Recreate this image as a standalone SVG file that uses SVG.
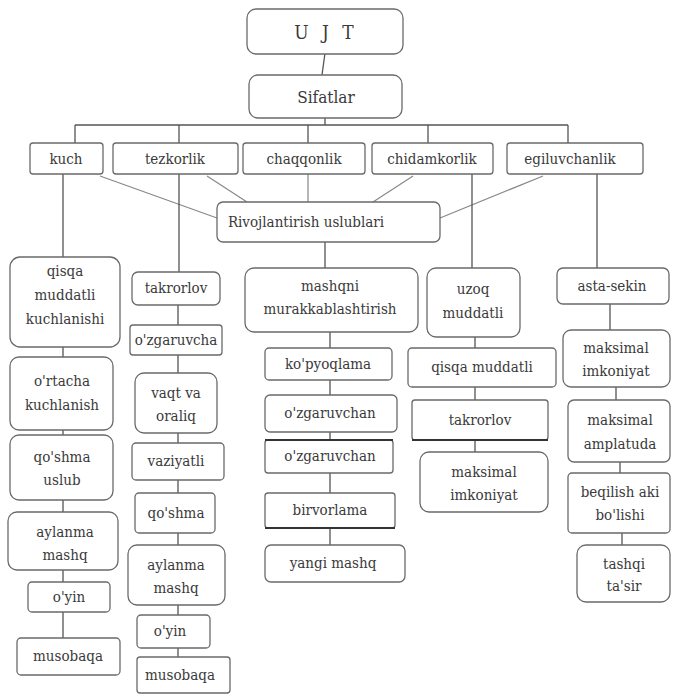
<svg xmlns="http://www.w3.org/2000/svg" width="675" height="695" viewBox="0 0 675 695">
<style>
.b{fill:#fff;stroke:#6a6a6a;stroke-width:1.3}
.t{font-family:'DejaVu Serif',serif;font-stretch:condensed;font-size:15px;fill:#3a3a3a;text-anchor:middle}
.c{stroke:#555;stroke-width:1.3;fill:none}
.d{stroke:#888;stroke-width:1.2;fill:none}
</style>
<rect width="675" height="695" fill="#fff"/>
<g id="connectors">
<path class="c" d="M325 53L322 75"/>
<path class="c" d="M325 118V125M75 125H568M75 125V143M179 125V143M308 125V143M428 125V143M568 125V143"/>
<path class="d" d="M100 176L217 218M207 176L247 202M308 173V202M413 176L373 202M543 176L440 218"/>
<path class="c" d="M63 173V257M179 173V272M472 173V268M597 173V268M325 242V268"/>
<path class="c" d="M63 347V357M63 430V435M63 500V512M63 570V582M63 612V638"/>
<path class="c" d="M178 305V325M178 355V373M178 433V443M178 480V493M178 533V545M178 605V615M178 648V657"/>
<path class="c" d="M330 332V348M330 380V395M330 432V440M330 473V493M330 528V545"/>
<path class="c" d="M475 337V348M475 387V400M475 440V452"/>
<path class="c" d="M610 304V330M616 387V400M620 462V473M622 533V545"/>
</g>
<g id="ujt"><rect class="b" x="247" y="9" width="156" height="45" rx="9"/><text class="t" x="326" y="39" style="font-size:19px;letter-spacing:4px">U J T</text></g>
<g id="sifatlar"><rect class="b" x="249" y="75" width="153" height="43" rx="9"/><text class="t" x="326" y="103" style="font-size:17px">Sifatlar</text></g>
<g id="kuch"><rect class="b" x="30" y="143" width="73" height="31" rx="3"/><text class="t" x="66" y="164">kuch</text></g>
<g id="tezkorlik"><rect class="b" x="113" y="143" width="125" height="31" rx="3"/><text class="t" x="175" y="164">tezkorlik</text></g>
<g id="chaqqonlik"><rect class="b" x="243" y="143" width="122" height="31" rx="3"/><text class="t" x="304" y="164">chaqqonlik</text></g>
<g id="chidamkorlik"><rect class="b" x="372" y="143" width="121" height="31" rx="3"/><text class="t" x="432" y="164">chidamkorlik</text></g>
<g id="egiluvchanlik"><rect class="b" x="507" y="143" width="136" height="31" rx="3"/><text class="t" x="570" y="164">egiluvchanlik</text></g>
<g id="rivojlantirish"><rect class="b" x="217" y="202" width="223" height="40" rx="6"/><text class="t" x="306" y="227">Rivojlantirish uslublari</text></g>

<g id="qisqa-muddatli-kuchlanish"><rect class="b" x="10" y="257" width="110" height="90" rx="10"/><text class="t" x="65" y="276">qisqa</text><text class="t" x="65" y="300">muddatli</text><text class="t" x="65" y="324">kuchlanishi</text></g>
<g id="ortacha-kuchlanish"><rect class="b" x="10" y="357" width="103" height="73" rx="9"/><text class="t" x="62" y="386">o'rtacha</text><text class="t" x="62" y="410">kuchlanish</text></g>
<g id="qoshma-uslub"><rect class="b" x="10" y="435" width="103" height="65" rx="9"/><text class="t" x="62" y="462">qo'shma</text><text class="t" x="62" y="485">uslub</text></g>
<g id="aylanma-mashq-1"><rect class="b" x="8" y="512" width="110" height="58" rx="9"/><text class="t" x="65" y="537">aylanma</text><text class="t" x="65" y="560">mashq</text></g>
<g id="oyin-1"><rect class="b" x="28" y="582" width="82" height="30" rx="4"/><text class="t" x="69" y="602">o'yin</text></g>
<g id="musobaqa-1"><rect class="b" x="17" y="638" width="103" height="37" rx="4"/><text class="t" x="68" y="661">musobaqa</text></g>

<g id="takrorlov-1"><rect class="b" x="132" y="272" width="88" height="33" rx="6"/><text class="t" x="176" y="293">takrorlov</text></g>
<g id="ozgaruvcha"><rect class="b" x="130" y="325" width="92" height="30" rx="3"/><text class="t" x="176" y="345">o'zgaruvcha</text></g>
<g id="vaqt-va-oraliq"><rect class="b" x="135" y="373" width="82" height="60" rx="9"/><text class="t" x="176" y="398">vaqt va</text><text class="t" x="176" y="421">oraliq</text></g>
<g id="vaziyatli"><rect class="b" x="132" y="443" width="92" height="37" rx="4"/><text class="t" x="176" y="466">vaziyatli</text></g>
<g id="qoshma"><rect class="b" x="135" y="493" width="80" height="40" rx="4"/><text class="t" x="176" y="518">qo'shma</text></g>
<g id="aylanma-mashq-2"><rect class="b" x="128" y="545" width="97" height="60" rx="9"/><text class="t" x="176" y="570">aylanma</text><text class="t" x="176" y="593">mashq</text></g>
<g id="oyin-2"><rect class="b" x="137" y="615" width="73" height="33" rx="4"/><text class="t" x="170" y="636">o'yin</text></g>
<g id="musobaqa-2"><rect class="b" x="137" y="657" width="93" height="36" rx="3"/><text class="t" x="180" y="680">musobaqa</text></g>

<g id="mashqni-murakkablashtirish"><rect class="b" x="245" y="268" width="173" height="64" rx="9"/><text class="t" x="330" y="291">mashqni</text><text class="t" x="330" y="314">murakkablashtirish</text></g>
<g id="kopyoqlama"><rect class="b" x="265" y="348" width="127" height="32" rx="4"/><text class="t" x="328" y="369">ko'pyoqlama</text></g>
<g id="ozgaruvchan-1"><rect class="b" x="265" y="395" width="132" height="37" rx="5"/><text class="t" x="330" y="418">o'zgaruvchan</text></g>
<g id="ozgaruvchan-2"><rect class="b" x="265" y="440" width="128" height="33" rx="3"/><path d="M265 440H393" stroke="#333" stroke-width="2.2"/><text class="t" x="330" y="461">o'zgaruvchan</text></g>
<g id="birvorlama"><rect class="b" x="265" y="493" width="130" height="35" rx="3"/><path d="M265 528H395" stroke="#333" stroke-width="2.2"/><text class="t" x="330" y="515">birvorlama</text></g>
<g id="yangi-mashq"><rect class="b" x="265" y="545" width="140" height="37" rx="6"/><text class="t" x="333" y="568">yangi mashq</text></g>

<g id="uzoq-muddatli"><rect class="b" x="427" y="268" width="93" height="69" rx="9"/><text class="t" x="473" y="294">uzoq</text><text class="t" x="473" y="318">muddatli</text></g>
<g id="qisqa-muddatli"><rect class="b" x="408" y="348" width="148" height="39" rx="4"/><text class="t" x="482" y="372">qisqa muddatli</text></g>
<g id="takrorlov-2"><rect class="b" x="412" y="400" width="136" height="40" rx="3"/><path d="M412 440H548" stroke="#333" stroke-width="2"/><text class="t" x="480" y="425">takrorlov</text></g>
<g id="maksimal-imkoniyat-1"><rect class="b" x="420" y="452" width="128" height="60" rx="9"/><text class="t" x="484" y="477">maksimal</text><text class="t" x="484" y="500">imkoniyat</text></g>

<g id="asta-sekin"><rect class="b" x="557" y="268" width="112" height="36" rx="6"/><text class="t" x="612" y="291">asta-sekin</text></g>
<g id="maksimal-imkoniyat-2"><rect class="b" x="563" y="330" width="107" height="57" rx="8"/><text class="t" x="616" y="353">maksimal</text><text class="t" x="616" y="376">imkoniyat</text></g>
<g id="maksimal-amplatuda"><rect class="b" x="568" y="400" width="102" height="62" rx="6"/><text class="t" x="620" y="425">maksimal</text><text class="t" x="620" y="449">amplatuda</text></g>
<g id="beqilish-aki-bolishi"><rect class="b" x="568" y="473" width="102" height="60" rx="4"/><text class="t" x="620" y="497">beqilish aki</text><text class="t" x="620" y="520">bo'lishi</text></g>
<g id="tashqi-tasir"><rect class="b" x="577" y="545" width="93" height="57" rx="9"/><text class="t" x="624" y="569">tashqi</text><text class="t" x="624" y="591">ta'sir</text></g>
</svg>
